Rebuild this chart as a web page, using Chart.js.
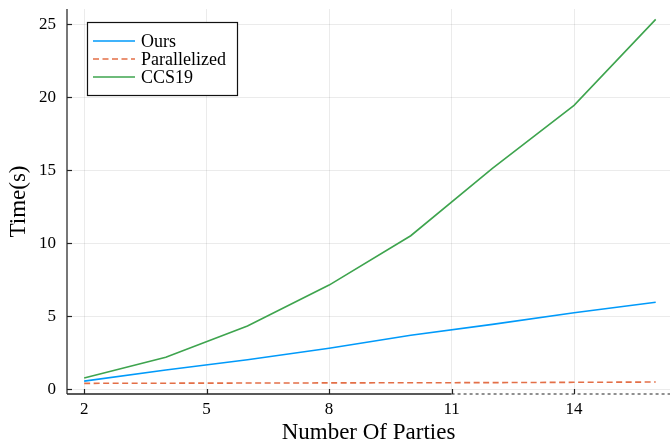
<!DOCTYPE html>
<html>
<head>
<meta charset="utf-8">
<script src="https://cdn.jsdelivr.net/npm/chart.js@4.4.1/dist/chart.umd.min.js"></script>
<style>
  html, body { margin: 0; padding: 0; background: #ffffff; overflow: hidden; }
  #wrap { width: 670px; height: 443px; position: relative; }
</style>
</head>
<body>
<div id="wrap"><canvas id="c" width="670" height="443"></canvas></div>
<script>
// ---- data ----
const categories = [2, 4, 6, 8, 10, 12, 14, 16];
const ours = [0.56, 1.32, 2.03, 2.81, 3.70, 4.45, 5.25, 5.96];
const parallelized = [0.41, 0.42, 0.43, 0.44, 0.45, 0.46, 0.48, 0.50];
const ccs19 = [0.77, 2.19, 4.34, 7.14, 10.52, 15.14, 19.45, 25.34];
const xTicks = [2, 5, 8, 11, 14];
const yTicks = [0, 5, 10, 15, 20, 25];
const seriesLabels = ['Ours', 'Parallelized', 'CCS19'];

const FONT = "'Liberation Serif', 'DejaVu Serif', serif";
const pts = arr => categories.map((x, i) => ({ x: x, y: arr[i] }));

const axesPlugin = {
  id: 'juliaAxes',
  afterDraw(chart) {
    const ctx = chart.ctx;
    const a = chart.chartArea;
    const xs = chart.scales.x, ys = chart.scales.y;
    ctx.save();
    // left axis
    ctx.strokeStyle = '#555555';
    ctx.lineWidth = 1.6;
    ctx.beginPath();
    ctx.moveTo(a.left, a.top);
    ctx.lineTo(a.left, a.bottom);
    ctx.stroke();
    // bottom axis: solid up to 11, dashed afterwards
    const split = xs.getPixelForValue(11);
    ctx.strokeStyle = '#222222';
    ctx.lineWidth = 1.3;
    ctx.beginPath();
    ctx.moveTo(a.left, a.bottom);
    ctx.lineTo(split, a.bottom);
    ctx.stroke();
    ctx.strokeStyle = '#555555';
    ctx.setLineDash([3, 3]);
    ctx.beginPath();
    ctx.moveTo(split, a.bottom);
    ctx.lineTo(a.right, a.bottom);
    ctx.stroke();
    ctx.setLineDash([]);
    // inward tick marks
    ctx.strokeStyle = '#222222';
    ctx.lineWidth = 1.2;
    xTicks.forEach(v => {
      const px = Math.round(xs.getPixelForValue(v)) + 0.5;
      ctx.beginPath();
      ctx.moveTo(px, a.bottom);
      ctx.lineTo(px, a.bottom - 5);
      ctx.stroke();
    });
    yTicks.forEach(v => {
      const py = Math.round(ys.getPixelForValue(v)) + 0.5;
      ctx.beginPath();
      ctx.moveTo(a.left, py);
      ctx.lineTo(a.left + 5, py);
      ctx.stroke();
    });
    // legend box
    const bx = a.left + 20, by = a.top + 13, bw = 150, bh = 73;
    ctx.fillStyle = '#ffffff';
    ctx.fillRect(bx, by, bw, bh);
    ctx.strokeStyle = '#111111';
    ctx.lineWidth = 1.2;
    ctx.strokeRect(bx + 0.5, by + 0.5, bw, bh);
    ctx.font = "18px " + FONT;
    ctx.textBaseline = 'middle';
    ctx.textAlign = 'left';
    chart.data.datasets.forEach((ds, i) => {
      const yy = by + 19 + i * 18;
      ctx.strokeStyle = ds.borderColor;
      ctx.lineWidth = 1.6;
      ctx.setLineDash(ds.borderDash || []);
      ctx.beginPath();
      ctx.moveTo(bx + 6, yy);
      ctx.lineTo(bx + 48, yy);
      ctx.stroke();
      ctx.setLineDash([]);
      ctx.fillStyle = '#000000';
      ctx.fillText(ds.label, bx + 54, yy + 1);
    });
    ctx.restore();
  }
};

new Chart(document.getElementById('c'), {
  type: 'line',
  data: {
    datasets: [
      { label: seriesLabels[0], data: pts(ours), borderColor: '#009AFA', borderWidth: 1.6, pointRadius: 0, fill: false, tension: 0 },
      { label: seriesLabels[1], data: pts(parallelized), borderColor: '#E36F47', borderWidth: 1.6, borderDash: [6, 3.5], pointRadius: 0, fill: false, tension: 0 },
      { label: seriesLabels[2], data: pts(ccs19), borderColor: '#3EA44E', borderWidth: 1.6, pointRadius: 0, fill: false, tension: 0 }
    ]
  },
  options: {
    responsive: false,
    animation: false,
    layout: { padding: { top: 0, right: 0, left: 0, bottom: 0 } },
    plugins: { legend: { display: false }, tooltip: { enabled: false } },
    scales: {
      x: {
        type: 'linear',
        min: 1.58,
        max: 16.35,
        afterBuildTicks: s => { s.ticks = xTicks.map(v => ({ value: v })); },
        afterFit: s => { s.height = 49; s.paddingLeft = 0; s.paddingRight = 0; },
        grid: { color: 'rgba(0,0,0,0.08)', lineWidth: 1, drawTicks: false },
        border: { display: false },
        ticks: { font: { family: FONT, size: 17 }, color: '#000000', padding: 5, maxRotation: 0, autoSkip: false },
        title: { display: true, text: 'Number Of Parties', font: { family: FONT, size: 23 }, color: '#000000', padding: { top: 0, bottom: -4 } }
      },
      y: {
        type: 'linear',
        min: -0.32,
        max: 26.05,
        afterBuildTicks: s => { s.ticks = yTicks.map(v => ({ value: v })); },
        afterFit: s => { s.width = 67; s.paddingTop = 9; s.paddingBottom = 0; },
        grid: { color: 'rgba(0,0,0,0.08)', lineWidth: 1, drawTicks: false },
        border: { display: false },
        ticks: { font: { family: FONT, size: 17 }, color: '#000000', padding: 11, autoSkip: false },
        title: { display: true, text: 'Time(s)', font: { family: FONT, size: 23 }, color: '#000000', padding: { top: 5, bottom: 0 } }
      }
    }
  },
  plugins: [axesPlugin]
});
</script>
</body>
</html>
